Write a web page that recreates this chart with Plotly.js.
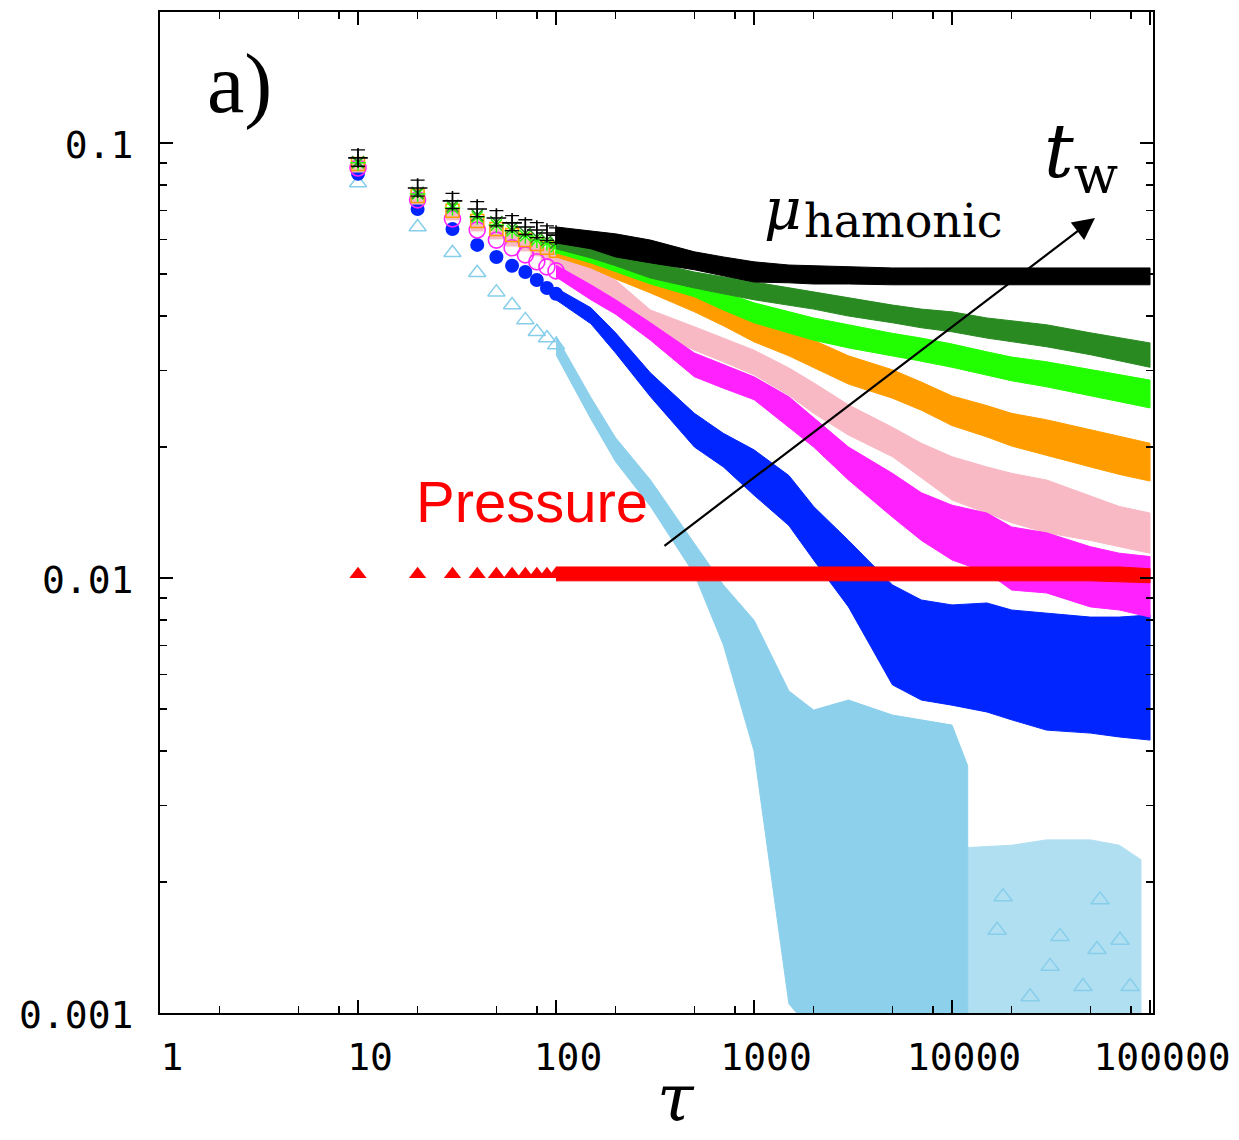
<!DOCTYPE html>
<html>
<head>
<meta charset="utf-8">
<script src="https://cdn.plot.ly/plotly-3.0.1.min.js"></script>
<style>html,body{margin:0;padding:0;background:#fff;}#chart{width:1239px;height:1140px;}</style>
</head>
<body>
<div id="chart"></div>
<script>
// ---- data ----
const tauEarly = [10,20,30,40,50,60,70,80,90,100];
const tauBand = [100,150,200,300,500,700,1000,1500,2000,3000,5000,7000,10000,15000,20000,30000,50000,70000,100000];

// black (+)
const blackEarly = [0.0924,0.0788,0.0736,0.0705,0.0672,0.0655,0.0641,0.0631,0.0621,0.0614];
const blackErr   = [0.0040,0.0033,0.0030,0.0028,0.0027,0.0026,0.0025,0.0025,0.0024,0.0024];
const blackHi = [0.0641,0.0627,0.0618,0.0598,0.0562,0.0547,0.0533,0.0524,0.0522,0.0519,0.0516,0.0516,0.0516,0.0516,0.0516,0.0516,0.0516,0.0516,0.0516];
const blackLo = [0.0589,0.0571,0.0547,0.0530,0.0511,0.0495,0.0479,0.0477,0.0474,0.0474,0.0472,0.0472,0.0472,0.0472,0.0472,0.0472,0.0472,0.0472,0.0472];

// dark green (x)
const dgreenEarly = [0.0904,0.0768,0.0717,0.0683,0.0658,0.0638,0.0621,0.0608,0.0598,0.0589];
const dgreenHi = [0.0608,0.0583,0.0562,0.0533,0.0505,0.0492,0.0479,0.0464,0.0454,0.0440,0.0424,0.0415,0.0409,0.0396,0.0390,0.0382,0.0366,0.0356,0.0347];
const dgreenLo = [0.0571,0.0544,0.0522,0.0489,0.0464,0.0450,0.0436,0.0424,0.0415,0.0400,0.0386,0.0376,0.0368,0.0356,0.0349,0.0340,0.0326,0.0315,0.0305];

// bright green (*)
const greenEarly = [0.0900,0.0763,0.0709,0.0676,0.0648,0.0628,0.0611,0.0598,0.0589,0.0577];
const greenHi = [0.0595,0.0568,0.0547,0.0516,0.0484,0.0454,0.0429,0.0409,0.0396,0.0382,0.0365,0.0356,0.0345,0.0331,0.0322,0.0314,0.0301,0.0293,0.0285];
const greenLo = [0.0559,0.0530,0.0505,0.0474,0.0443,0.0413,0.0386,0.0366,0.0352,0.0338,0.0324,0.0315,0.0305,0.0293,0.0284,0.0275,0.0262,0.0254,0.0246];

// orange (open square)
const orangeEarly = [0.0895,0.0755,0.0698,0.0662,0.0634,0.0614,0.0598,0.0586,0.0574,0.0565];
const orangeHi = [0.0583,0.0553,0.0530,0.0495,0.0452,0.0424,0.0396,0.0372,0.0352,0.0324,0.0301,0.0282,0.0262,0.0249,0.0239,0.0231,0.0219,0.0211,0.0204];
const orangeLo = [0.0547,0.0516,0.0487,0.0452,0.0409,0.0380,0.0349,0.0324,0.0305,0.0279,0.0259,0.0243,0.0224,0.0211,0.0201,0.0191,0.0180,0.0173,0.0167];

// pink (filled square)
const pinkEarly = [0.0885,0.0747,0.0687,0.0648,0.0621,0.0598,0.0583,0.0568,0.0556,0.0544];
const pinkHi = [0.0562,0.0522,0.0484,0.0413,0.0378,0.0356,0.0334,0.0304,0.0281,0.0250,0.0222,0.0204,0.0190,0.0180,0.0174,0.0168,0.0154,0.0146,0.0141];
const pinkLo = [0.0527,0.0474,0.0436,0.0372,0.0334,0.0314,0.0293,0.0263,0.0239,0.0213,0.0190,0.0170,0.0151,0.0141,0.0134,0.0127,0.0122,0.0118,0.0114];

// magenta (open circle)
const magentaEarly = [0.0876,0.0740,0.0669,0.0631,0.0598,0.0574,0.0553,0.0533,0.0519,0.0508];
const magentaHi = [0.0524,0.0472,0.0436,0.0386,0.0329,0.0309,0.0290,0.0261,0.0234,0.0200,0.0174,0.0157,0.0147,0.0141,0.0131,0.0127,0.0118,0.0114,0.0112];
const magentaLo = [0.0492,0.0436,0.0404,0.0352,0.0290,0.0273,0.0257,0.0222,0.0200,0.0168,0.0138,0.0122,0.0110,0.0103,0.00938,0.00924,0.00858,0.00844,0.00813];

// blue (filled circle)
const blueEarly = [0.0849,0.0705,0.0634,0.0583,0.0547,0.0522,0.0505,0.0484,0.0464,0.0450];
const blueHi = [0.0464,0.0418,0.0366,0.0296,0.0239,0.0215,0.0197,0.0172,0.0146,0.0122,0.00964,0.00890,0.00867,0.00876,0.00844,0.00831,0.00813,0.00813,0.00822];
const blueLo = [0.0436,0.0384,0.0329,0.0261,0.0200,0.0180,0.0155,0.0132,0.0110,0.00858,0.00568,0.00524,0.00510,0.00492,0.00472,0.00447,0.00440,0.00431,0.00424];

// light blue (open triangle)
const lblueEarly = [0.0809,0.0641,0.0559,0.0503,0.0454,0.0424,0.0392,0.0368,0.0356,0.0343];
const tauLblue = [100,150,200,300,500,700,1000,1500,2000,3000,5000,7000,10000,12000];
const lblueHi = [0.0360,0.0260,0.0210,0.0168,0.0120,0.00964,0.0080,0.0055,0.00497,0.00524,0.00484,0.00472,0.00459,0.0037];
const lblueLo = [0.0326,0.0232,0.0185,0.0146,0.0102,0.00702,0.0040,0.00105,0.0009,0.0009,0.0009,0.0009,0.0009,0.0009];
const tauLblueTail = [12000,20000,30000,50000,70000,90000];
const lblueTailHi = [0.00240,0.00243,0.00250,0.00250,0.00243,0.00225];
const lblueTailLo = [0.0009,0.0009,0.0009,0.0009,0.0009,0.0009];
const tauLblueTri = [18100,35100,55900,70500,31300,54000,16900,79300,24800,45900];
const lblueTri = [0.00185,0.00150,0.00182,0.00147,0.00128,0.00140,0.00155,0.00115,0.00109,0.00115];

// red (Pressure, filled triangle)
const redEarly = [0.0102,0.0102,0.0102,0.0102,0.0102,0.0102,0.0102,0.0102,0.0102,0.0102];
const redHi = [0.0106,0.0106,0.0106,0.0106,0.0106,0.0106,0.0106,0.0106,0.0106,0.0106,0.0106,0.0106,0.0106,0.0106,0.0106,0.0106,0.0106,0.0106,0.0105];
const redLo = [0.00985,0.00985,0.00985,0.00985,0.00985,0.00985,0.00985,0.00985,0.00985,0.00985,0.00985,0.00985,0.00985,0.00985,0.00985,0.00985,0.00985,0.0098,0.00975];

const xTickVals = [1,10,100,1000,10000,100000];
const xTickText = ['1','10','100','1000','10000','100000'];
const xMinor = [2,5,8,20,50,80,200,500,800,2000,5000,8000,20000,50000,80000];
const yTickVals = [0.001,0.01,0.1];
const yTickText = ['0.001','0.01','0.1'];
const yMinor = [0.002,0.003,0.004,0.005,0.006,0.007,0.008,0.009,0.02,0.03,0.04,0.05,0.06,0.07,0.08,0.09];

// ---- build traces ----
function band(x, hi, lo, color, opacity) {
  return {x: x.concat(x.slice().reverse()), y: hi.concat(lo.slice().reverse()),
    type: 'scatter', mode: 'lines', fill: 'toself', fillcolor: color,
    line: {color: color, width: 1}, opacity: opacity, hoverinfo: 'skip', showlegend: false};
}
function pts(x, y, symbol, color, size, lw, extra) {
  const t = {x: x, y: y, type: 'scatter', mode: 'markers', showlegend: false, hoverinfo: 'skip',
    marker: {symbol: symbol, color: color, size: size, line: {color: color, width: lw}}};
  return Object.assign(t, extra || {});
}

const C = {black:'#000000', dgreen:'#2a8a22', green:'#22ff00', orange:'#ff9d00', pink:'#f8b9c5',
  magenta:'#ff22ff', blue:'#0025ff', lblue:'#87ceeb', red:'#ff0000'};

const traces = [
  band(tauLblue, lblueHi, lblueLo, C.lblue, 0.95),
  band(tauLblueTail, lblueTailHi, lblueTailLo, C.lblue, 0.65),
  pts(tauLblueTri, lblueTri, 'triangle-up-open', C.lblue, 16, 1.5),
  pts(tauEarly, lblueEarly, 'triangle-up-open', C.lblue, 15, 1.5),
  band(tauBand, blueHi, blueLo, C.blue, 1),
  pts(tauEarly, blueEarly, 'circle', C.blue, 14, 0),
  band(tauBand, pinkHi, pinkLo, C.pink, 1),
  pts(tauEarly, pinkEarly, 'square', C.pink, 13, 0),
  band(tauBand, magentaHi, magentaLo, C.magenta, 1),
  pts(tauEarly, magentaEarly, 'circle-open', C.magenta, 16, 1.6),
  band(tauBand, orangeHi, orangeLo, C.orange, 1),
  pts(tauEarly, orangeEarly, 'square-open', C.orange, 13, 1.5),
  band(tauBand, greenHi, greenLo, C.green, 1),
  pts(tauEarly, greenEarly, 'asterisk-open', C.green, 13, 1.5),
  band(tauBand, dgreenHi, dgreenLo, C.dgreen, 1),
  pts(tauEarly, dgreenEarly, 'x-thin-open', C.dgreen, 12, 1.5),
  band(tauBand, blackHi, blackLo, C.black, 1),
  pts(tauEarly, blackEarly, 'cross-thin-open', C.black, 14, 1.6,
      {error_y: {type: 'data', array: blackErr, visible: true, color: C.black, thickness: 1.3, width: 7}}),
  band(tauBand, redHi, redLo, C.red, 1),
  pts(tauEarly, redEarly, 'triangle-up', C.red, 15, 0)
];

// pixel helpers for annotation placement (plot area 160..1153 x 12..1013)
const px = v => (v - 160) / 993;
const py = v => (1013 - v) / 1001;

const axisCommon = {
  showgrid: false, zeroline: false, showline: true, linecolor: '#000', linewidth: 2,
  mirror: 'allticks', ticks: 'inside', ticklen: 13, tickwidth: 1.5, tickcolor: '#000',
  tickfont: {family: 'DejaVu Sans Mono', size: 38, color: '#000'}
};

const layout = {
  width: 1239, height: 1140,
  margin: {l: 160, r: 86, t: 12, b: 127, pad: 0},
  paper_bgcolor: '#fff', plot_bgcolor: '#fff',
  showlegend: false,
  xaxis: Object.assign({}, axisCommon, {
    type: 'log', range: [0, 5.015], tickmode: 'array', tickvals: xTickVals, ticktext: xTickText,
    ticklabelshift: 12, ticklabelstandoff: 9,
    minor: {tickmode: 'array', tickvals: xMinor, ticks: 'inside', ticklen: 7, tickwidth: 1.5, tickcolor: '#000'}
  }),
  yaxis: Object.assign({}, axisCommon, {
    type: 'log', range: [-3, -0.699], tickmode: 'array', tickvals: yTickVals, ticktext: yTickText,
    ticklabelstandoff: 17, ticklabelshift: 2,
    minor: {tickmode: 'array', tickvals: yMinor, ticks: 'inside', ticklen: 7, tickwidth: 1.5, tickcolor: '#000'}
  }),
  annotations: [
    {xref: 'paper', yref: 'paper', x: px(205), y: py(84), xanchor: 'left', yanchor: 'middle', showarrow: false,
     text: 'a)', font: {family: 'Liberation Serif', size: 84, color: '#000'}},
    {xref: 'paper', yref: 'paper', x: px(414), y: py(502), xanchor: 'left', yanchor: 'middle', showarrow: false,
     text: 'Pressure', font: {family: 'Liberation Sans', size: 58, color: '#ff0000'}},
    {xref: 'paper', yref: 'paper', x: px(1042), y: py(156), xanchor: 'left', yanchor: 'middle', showarrow: false,
     text: '<i>t</i><sub>w</sub>', font: {family: 'DejaVu Serif', size: 74, color: '#000'}},
    {xref: 'paper', yref: 'paper', x: px(762), y: py(209), xanchor: 'left', yanchor: 'middle', showarrow: false,
     text: '<i>μ</i>', font: {family: 'DejaVu Serif', size: 58, color: '#000'}},
    {xref: 'paper', yref: 'paper', x: px(802), y: py(221), xanchor: 'left', yanchor: 'middle', showarrow: false,
     text: 'hamonic', font: {family: 'DejaVu Serif', size: 46, color: '#000'}},
    {xref: 'paper', yref: 'paper', x: px(676), y: py(1139), xanchor: 'center', yanchor: 'bottom', showarrow: false,
     text: '<i>τ</i>', font: {family: 'DejaVu Serif', size: 66, color: '#000'}},
    {xref: 'x', yref: 'y', axref: 'x', ayref: 'y', x: 4.722, y: -1.1724, ax: 2.540, ay: -1.9287,
     text: '', showarrow: true, arrowhead: 2, arrowsize: 2, arrowwidth: 2.2, arrowcolor: '#000'}
  ]
};

Plotly.newPlot('chart', traces, layout, {staticPlot: true, displayModeBar: false});
</script>
</body>
</html>
